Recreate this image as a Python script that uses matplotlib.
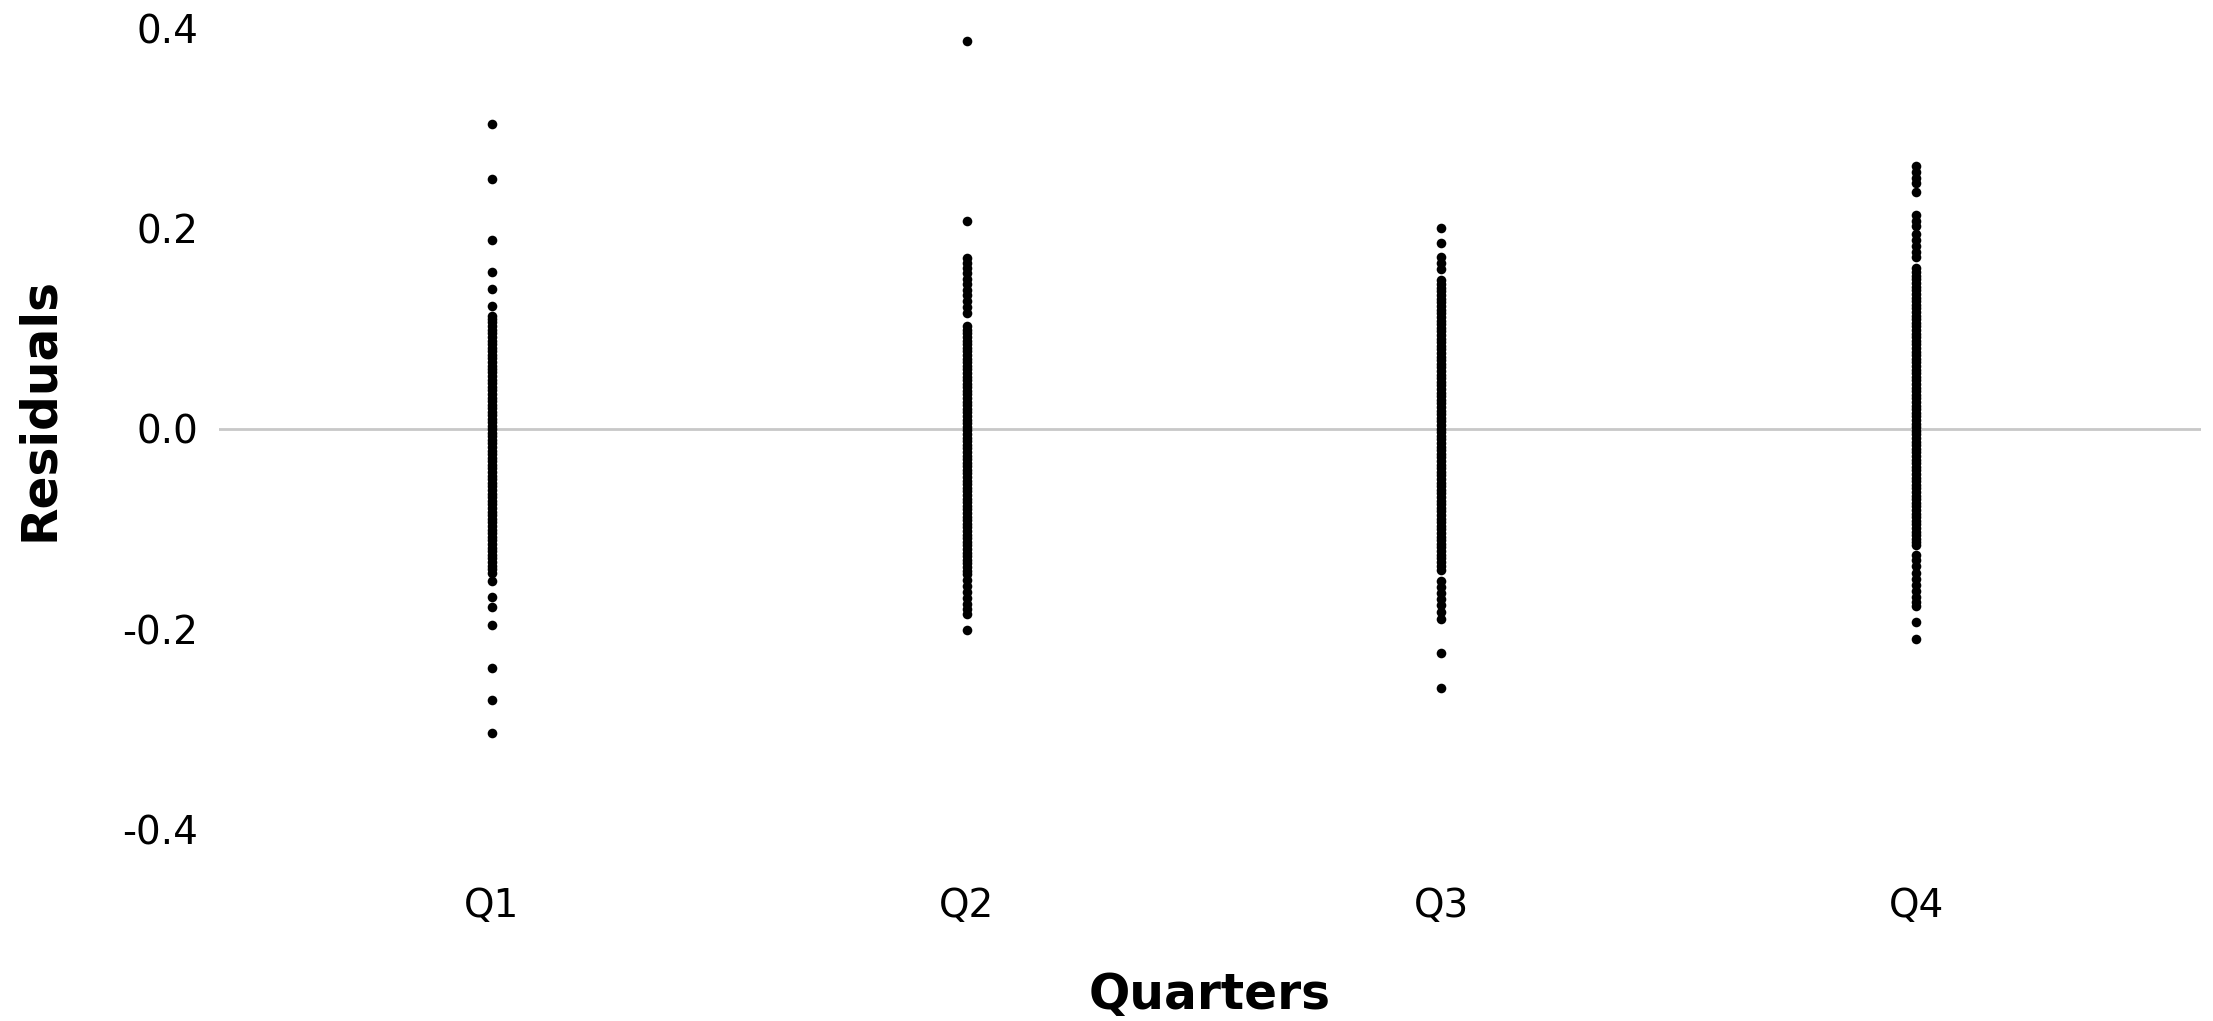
import matplotlib.pyplot as plt

# residuals per quarter
quarters = ["Q1", "Q2", "Q3", "Q4"]

q1 = [0.304, 0.249, 0.189, 0.157, 0.140, 0.123,
      0.113, 0.110, 0.107, 0.103, 0.099, 0.096, 0.092, 0.088, 0.085, 0.081,
      0.078, 0.074, 0.071, 0.067, 0.063, 0.060, 0.057, 0.053, 0.049, 0.046,
      0.042, 0.039, 0.035, 0.031, 0.028, 0.024, 0.021, 0.017, 0.014, 0.010,
      0.007, 0.003, 0.000, -0.004, -0.007, -0.011, -0.014, -0.018, -0.022,
      -0.025, -0.029, -0.032, -0.036, -0.039, -0.043, -0.047, -0.050, -0.054,
      -0.057, -0.061, -0.065, -0.068, -0.072, -0.075, -0.079, -0.083, -0.086,
      -0.090, -0.093, -0.097, -0.101, -0.104, -0.108, -0.111, -0.115, -0.119,
      -0.122, -0.126, -0.129, -0.133, -0.137, -0.140, -0.144,
      -0.152, -0.168, -0.178, -0.196, -0.239, -0.270, -0.303]

q2 = [0.387, 0.207, 0.171, 0.166, 0.161, 0.156, 0.150, 0.145, 0.139,
      0.134, 0.128, 0.122, 0.116,
      0.103, 0.099, 0.096, 0.092, 0.088, 0.085, 0.081, 0.078, 0.074, 0.070,
      0.067, 0.063, 0.060, 0.056, 0.052, 0.049, 0.045, 0.042, 0.038, 0.035,
      0.031, 0.027, 0.024, 0.020, 0.017, 0.013, 0.009, 0.006, 0.002, -0.001,
      -0.005, -0.009, -0.012, -0.016, -0.019, -0.023, -0.027, -0.030, -0.034,
      -0.037, -0.041, -0.044, -0.048, -0.052, -0.055, -0.059, -0.062, -0.066,
      -0.070, -0.073, -0.077, -0.080, -0.084, -0.088, -0.091, -0.095, -0.098,
      -0.102, -0.106, -0.109, -0.113, -0.116, -0.120, -0.124, -0.127, -0.131,
      -0.134, -0.138, -0.142, -0.145, -0.151,
      -0.157, -0.163, -0.169, -0.175, -0.180, -0.185, -0.201]

q3 = [0.200, 0.186, 0.172, 0.166, 0.160,
      0.149, 0.145, 0.141, 0.138, 0.134, 0.130, 0.127, 0.123, 0.119, 0.116,
      0.112, 0.108, 0.105, 0.101, 0.098, 0.094, 0.090, 0.087, 0.083, 0.080,
      0.076, 0.072, 0.069, 0.065, 0.062, 0.058, 0.054, 0.051, 0.047, 0.044,
      0.040, 0.036, 0.033, 0.029, 0.026, 0.022, 0.018, 0.015, 0.011, 0.008,
      0.004, 0.000, -0.003, -0.007, -0.010, -0.014, -0.018, -0.021, -0.025,
      -0.028, -0.032, -0.036, -0.039, -0.043, -0.046, -0.050, -0.054, -0.057,
      -0.061, -0.064, -0.068, -0.072, -0.075, -0.079, -0.082, -0.086, -0.090,
      -0.093, -0.097, -0.100, -0.104, -0.108, -0.111, -0.115, -0.118, -0.122,
      -0.126, -0.129, -0.133, -0.137, -0.141,
      -0.152, -0.158, -0.164, -0.170, -0.176, -0.183, -0.190, -0.224, -0.259]

q4 = [0.262, 0.256, 0.250, 0.245, 0.236, 0.213, 0.207, 0.202,
      0.195, 0.189, 0.183, 0.177, 0.172,
      0.161, 0.157, 0.153, 0.150, 0.146, 0.142, 0.139, 0.135, 0.131, 0.128,
      0.124, 0.121, 0.117, 0.113, 0.110, 0.106, 0.103, 0.099, 0.095, 0.092,
      0.088, 0.085, 0.081, 0.077, 0.074, 0.070, 0.067, 0.063, 0.059, 0.056,
      0.052, 0.049, 0.045, 0.041, 0.038, 0.034, 0.031, 0.027, 0.023, 0.020,
      0.016, 0.013, 0.009, 0.005, 0.002, -0.002, -0.005, -0.009, -0.013,
      -0.016, -0.020, -0.023, -0.027, -0.031, -0.034, -0.038, -0.041, -0.045,
      -0.049, -0.052, -0.056, -0.059, -0.063, -0.067, -0.070, -0.074, -0.077,
      -0.081, -0.085, -0.088, -0.092, -0.095, -0.099, -0.103, -0.106, -0.110,
      -0.113, -0.116,
      -0.126, -0.131, -0.137, -0.144, -0.150, -0.156, -0.162, -0.168, -0.173,
      -0.177, -0.193, -0.210]

series = [q1, q2, q3, q4]

fig = plt.figure(figsize=(22.13, 10.21), dpi=100)
ax = fig.add_axes([0.099, 0.148, 0.8956, 0.852])

ax.axhline(0, color='#c8c8c8', lw=2, zorder=0)
for name, vals in zip(quarters, series):
    ax.scatter([name] * len(vals), vals, s=48, color='black', marker='o',
               linewidths=0, zorder=2)

ax.set_xlim(-0.575, 3.6)
ax.set_ylim(-0.44, 0.428)
ax.set_yticks([-0.4, -0.2, 0.0, 0.2, 0.4])
ax.set_yticklabels(['-0.4', '-0.2', '0.0', '0.2', '0.4'])

for s in ax.spines.values():
    s.set_visible(False)
ax.tick_params(axis='both', length=0, labelsize=28)
ax.tick_params(axis='x', pad=12)
ax.tick_params(axis='y', pad=15)

ax.set_xlabel('Quarters', fontsize=35, fontweight='bold')
ax.set_ylabel('Residuals', fontsize=35, fontweight='bold')
ax.xaxis.set_label_coords(0.5, -0.116)
ax.yaxis.set_label_coords(-0.079, 0.53)

fig.savefig('out.png', dpi=100)
